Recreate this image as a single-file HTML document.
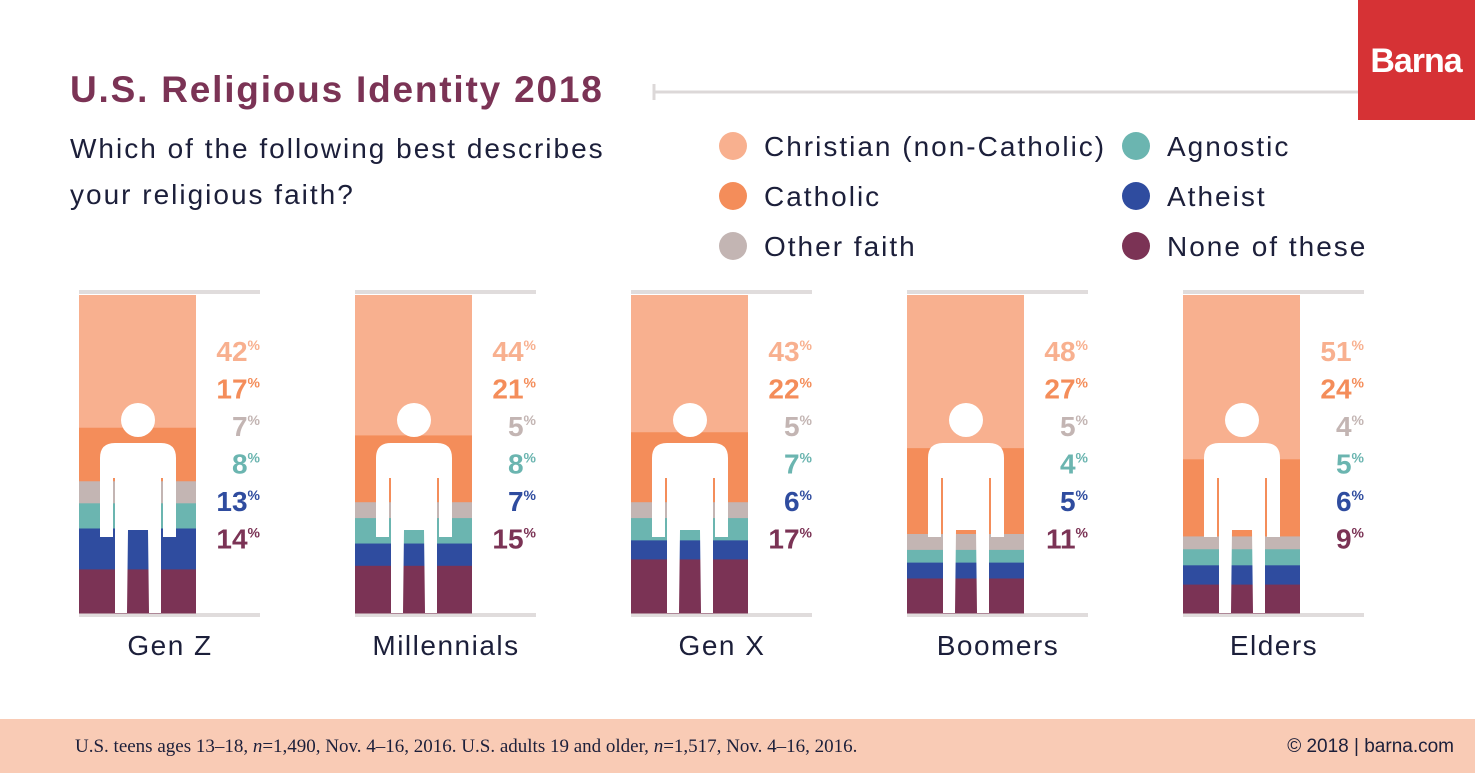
<!DOCTYPE html>
<html><head><meta charset="utf-8">
<style>
body{margin:0;width:1475px;height:773px;overflow:hidden;background:#fff;font-family:"Liberation Sans",sans-serif;}
svg{display:block}
</style></head>
<body>
<svg id="chart" width="1475" height="773">
  <text x="70" y="102" font-size="37" font-weight="bold" letter-spacing="1.8" fill="#7b3355">U.S. Religious Identity 2018</text>
  <line x1="654" y1="92" x2="1358" y2="92" stroke="#dcd8d8" stroke-width="3"/>
  <line x1="654" y1="84" x2="654" y2="100" stroke="#dcd8d8" stroke-width="3"/>
  <rect x="1358" y="0" width="117" height="120" fill="#d63235"/>
  <text x="1416" y="72" font-size="34" font-weight="bold" fill="#fff" text-anchor="middle" letter-spacing="-1">Barna</text>
  <text x="70" y="158" font-size="28" letter-spacing="2" fill="#1c1f3a">Which of the following best describes</text>
  <text x="70" y="204" font-size="28" letter-spacing="2" fill="#1c1f3a">your religious faith?</text>
  <g id="legend"></g>
  <g id="cols"></g>
  <rect x="0" y="719" width="1475" height="54" fill="#f9cbb5"/>
  <text x="75" y="752" font-size="19" font-family="Liberation Serif, serif" fill="#1c1f3a">U.S. teens ages 13–18, <tspan font-style="italic">n</tspan>=1,490, Nov. 4–16, 2016. U.S. adults 19 and older, <tspan font-style="italic">n</tspan>=1,517, Nov. 4–16, 2016.</text>
  <text x="1454" y="752" font-size="19" fill="#1c1f3a" text-anchor="end">© 2018 | barna.com</text>
</svg>
<script>
const categories = ["Gen Z","Millennials","Gen X","Boomers","Elders"];
const seriesNames = ["Christian (non-Catholic)","Catholic","Other faith","Agnostic","Atheist","None of these"];
const christian = [42,44,43,48,51];
const catholic = [17,21,22,27,24];
const other = [7,5,5,5,4];
const agnostic = [8,8,7,4,5];
const atheist = [13,7,6,5,6];
const noneOf = [14,15,17,11,9];
const colors = ["#f8b08f","#f48d5a","#c3b5b3","#6bb5b0","#2f4c9f","#7b3355"];
const series = [christian,catholic,other,agnostic,atheist,noneOf];
const NS="http://www.w3.org/2000/svg";
function mk(tag,attrs,parent){const e=document.createElementNS(NS,tag);for(const k in attrs)e.setAttribute(k,attrs[k]);parent.appendChild(e);return e;}
const lg=document.getElementById('legend');
const legPos=[[733,146],[733,196],[733,246],[1136,146],[1136,196],[1136,246]];
seriesNames.forEach((n,i)=>{
  const g=mk('g',{},lg);
  
  
  mk('circle',{cx:legPos[i][0],cy:legPos[i][1],r:14,fill:colors[i]},g);
  const t=mk('text',{x:legPos[i][0]+31,y:legPos[i][1]+10,'font-size':28,'letter-spacing':2,fill:'#1c1f3a'},g);
  t.textContent=n;
});
const top0=295,bot=613,H=bot-top0,bw=117;
const cols=document.getElementById('cols');
categories.forEach((c,ci)=>{
  const x0=79+ci*276;
  const g=mk('g',{},cols);
  
  
  mk('line',{x1:x0,y1:292,x2:x0+181,y2:292,stroke:'#e0dcdc','stroke-width':4},g);
  mk('line',{x1:x0,y1:615,x2:x0+181,y2:615,stroke:'#e0dcdc','stroke-width':4},g);
  let total=0;series.forEach(s=>total+=s[ci]);
  const sc=H/total;
  let y=bot;
  for(let si=series.length-1;si>=0;si--){
    const h=series[si][ci]*sc;
    const r=mk('rect',{x:x0,y:y-h,width:bw,height:h+0.5,fill:colors[si]},g);
    
    
    y-=h;
  }
  const cx=x0+59;
  const f=mk('g',{fill:'#fff'},g);
  
  
  mk('circle',{cx:cx,cy:420,r:17},f);
  mk('path',{d:`M${cx-38} 537 L${cx-38} 458 Q${cx-38} 443 ${cx-23} 443 L${cx+23} 443 Q${cx+38} 443 ${cx+38} 458 L${cx+38} 537 L${cx+25} 537 L${cx+25} 478 L${cx+23} 478 L${cx+23} 613 L${cx+11} 613 L${cx+10} 530 L${cx-10} 530 L${cx-11} 613 L${cx-23} 613 L${cx-23} 478 L${cx-25} 478 L${cx-25} 537 Z`},f);
  series.forEach((s,si)=>{
    const t=mk('text',{x:x0+181,y:361+si*37.5,'font-size':28,'font-weight':'bold','text-anchor':'end',fill:colors[si]},g);
    
    
    t.textContent=s[ci];
    const p=mk('tspan',{'font-size':14,dy:-11},t);p.textContent='%';
  });
  const lab=mk('text',{x:x0+91,y:655,'font-size':28,'letter-spacing':1.5,fill:'#1c1f3a','text-anchor':'middle'},g);
  
  
  lab.textContent=c;
});
</script>
</body></html>
